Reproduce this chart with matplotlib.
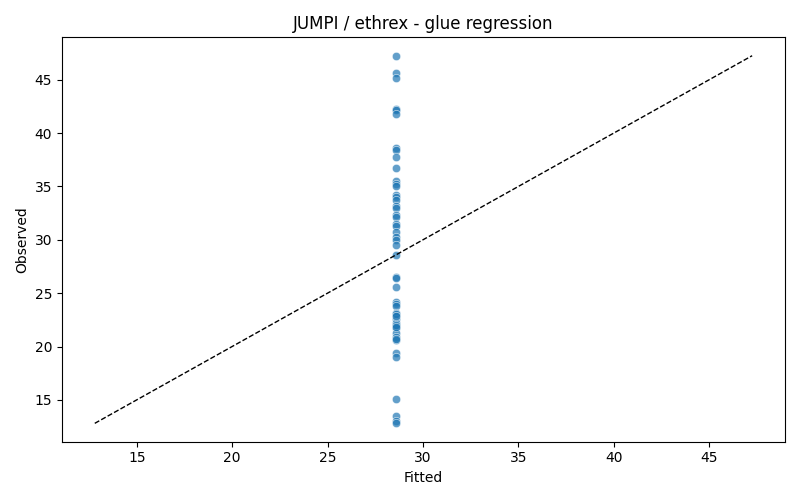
import numpy as np
import matplotlib
matplotlib.use("Agg")
from matplotlib import pyplot as plt
import seaborn as sns

observed = [47.25, 45.6, 45.2, 42.3, 42.2, 41.8, 38.6, 38.4, 37.8, 36.7,
            35.5, 35.2, 35.0, 34.2, 34.0, 33.7, 33.2, 33.0, 32.3, 32.1,
            31.5, 31.3, 30.7, 30.3, 30.0, 29.5, 28.6, 26.5, 26.4, 25.6,
            24.2, 24.0, 23.8, 23.1, 22.9, 22.6, 22.2, 21.9, 21.7, 21.3,
            20.9, 20.6, 19.4, 19.0, 15.1, 13.5, 13.0, 12.8,
            22.0, 21.8, 23.0, 20.7, 22.9]
fitted_value = 28.58
fitted = [fitted_value] * len(observed)

title = "JUMPI / ethrex - glue regression"

fig, ax = plt.subplots(figsize=(8, 5), dpi=100)
sns.scatterplot(x=fitted, y=observed, ax=ax, alpha=0.7, s=36)

# identity line over the data range
lo = min(min(observed), min(fitted))
hi = max(max(observed), max(fitted))
ax.plot([lo, hi], [lo, hi], "k--", linewidth=1)

ax.set_xlabel("Fitted")
ax.set_ylabel("Observed")
ax.set_title(title)
fig.tight_layout()
fig.savefig("out.png")
